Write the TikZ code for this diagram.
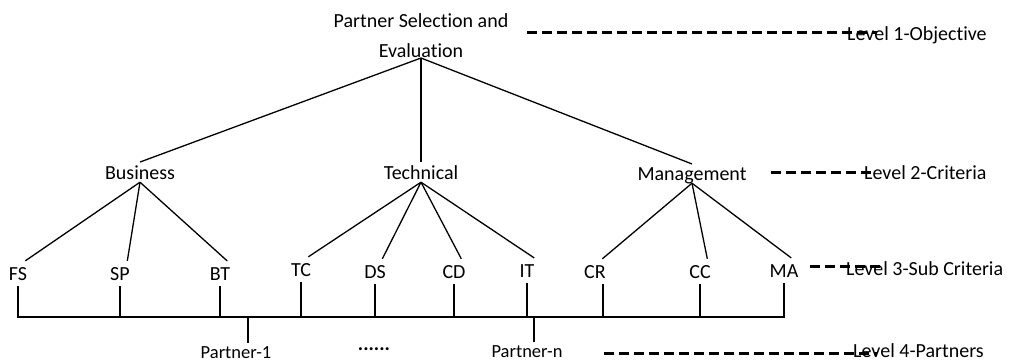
\documentclass[tikz,border=0pt]{standalone}
\usepackage{fontspec}
\setmainfont{Carlito}[Ligatures=NoCommon]
\usetikzlibrary{positioning}

\begin{document}
\begin{tikzpicture}[x=1pt, y=-1pt,
    lbl/.style={inner sep=3pt, text depth=0pt, anchor=base,
                font=\fontsize{20}{30}\selectfont},
    sub/.style={inner xsep=0pt, inner ysep=6pt, text depth=0pt, anchor=base,
                font=\fontsize{20}{24}\selectfont},
    lvl/.style={inner sep=0pt, anchor=base west, font=\fontsize{20}{24}\selectfont},
    tie/.style={line width=1.3pt},
    guide/.style={line width=3pt, dash pattern=on 10pt off 5pt}
  ]
    \useasboundingbox (0,0) rectangle (1015,362);
    % Level 1 objective
    \node[lbl, align=center, inner sep=0pt, anchor=south] (obj) at (421,58)
         {Partner Selection and\\Evaluation};
    % Level 2 criteria
    \node[lbl] (bus) at (140,179) {Business};
    \node[lbl] (tech) at (421,179) {Technical};
    \node[lbl] (mgmt) at (692,180) {Management};
    \draw[tie] (obj.south) -- (bus.north);
    \draw[tie] (obj.south) -- (tech.north);
    \draw[tie] (obj.south) -- (mgmt.north);
    % Level 3 sub criteria
    \node[sub] (FS) at (18,280) {FS};
    \node[sub] (SP) at (120,280) {SP};
    \node[sub] (BT) at (220,280) {BT};
    \node[sub] (TC) at (301,276) {TC};
    \node[sub] (DS) at (375,278) {DS};
    \node[sub] (CD) at (454,278) {CD};
    \node[sub] (IT) at (527,277) {IT};
    \node[sub] (CR) at (595,278) {CR};
    \node[sub] (CC) at (700,278) {CC};
    \node[sub] (MA) at (784,277) {MA};
    \foreach \n in {FS,SP,BT} \draw[tie] (bus.south) -- (\n.60);
    \foreach \n in {TC,DS,CD,IT} \draw[tie] (tech.south) -- (\n.60);
    \foreach \n in {CR,CC,MA} \draw[tie] (mgmt.south) -- (\n.60);
    % Bar to partners
    \coordinate (bar) at (0,317);
    \draw[tie] (FS.south) -- (FS.south |- bar) -- (MA.south |- bar) -- (MA.south);
    \foreach \n in {SP,BT,TC,DS,CD,IT,CC}
      \draw[tie] (\n.south) -- (\n.south |- bar);
    \draw[tie] ([xshift=8pt]CR.south) -- ([xshift=8pt]CR.south |- bar);
    % Level 4 partners
    \node[lbl, font=\fontsize{18.5}{24}\selectfont] (p1) at (236,358) {Partner-1};
    \node[lbl, font=\fontsize{18.5}{24}\selectfont] (pn) at (527,357) {Partner-n};
    \node[lbl, font=\fontsize{20}{24}\selectfont\bfseries] (dots) at (374,350) {......};
    \draw[tie] ([xshift=12pt]p1.north) -- ([xshift=12pt]p1.north |- bar);
    \draw[tie] ([xshift=7pt]pn.north) -- ([xshift=7pt]pn.north |- bar);
    % Level labels
    \node[lvl] (L1) at (847,40) {Level 1-Objective};
    \node[lvl] (L2) at (864,179) {Level 2-Criteria};
    \node[lvl] (L3) at (846,275) {Level 3-Sub Criteria};
    \node[lvl] (L4) at (853,357) {Level 4-Partners};
    \coordinate (g1) at (527,32);
    \coordinate (g2) at (771,172);
    \coordinate (g3) at (810,266);
    \coordinate (g4) at (604,353);
    \draw[guide] (g1) -- ([xshift=30pt]g1 -| L1.west);
    \draw[guide] (g2) -- ([xshift=7pt]g2 -| L2.west);
    \draw[guide] (g3) -- ([xshift=36pt]g3 -| L3.west);
    \draw[guide] (g4) -- ([xshift=24pt]g4 -| L4.west);
  \end{tikzpicture}
\end{document}
